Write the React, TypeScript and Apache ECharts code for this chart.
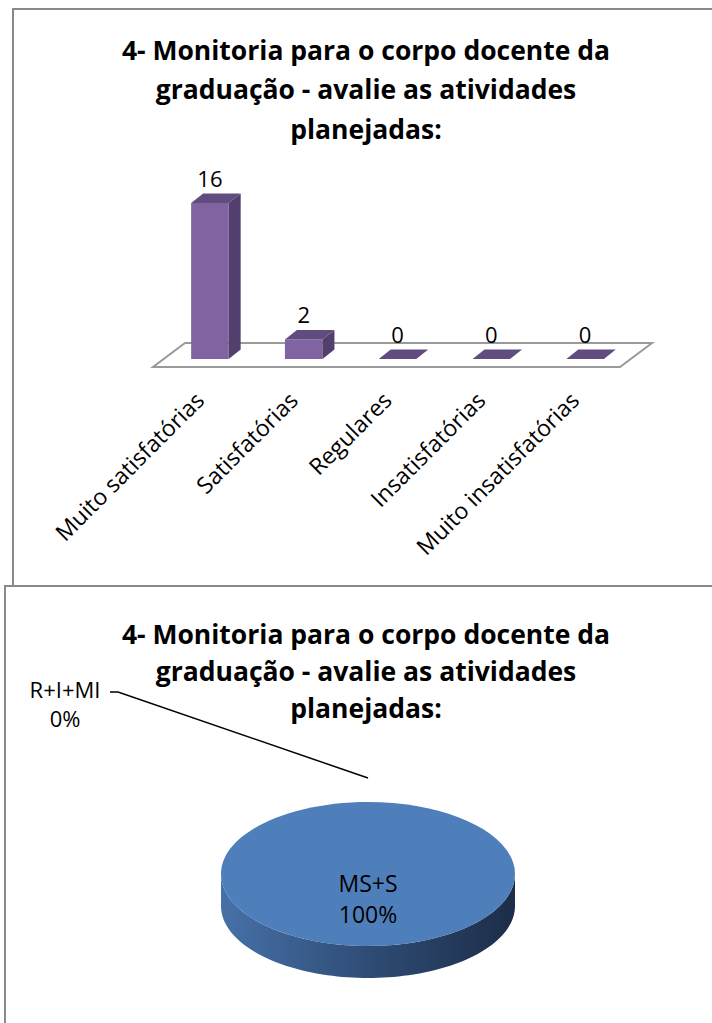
import React, { useEffect, useRef } from "react";
import * as echarts from "echarts";

const titleLines = ["4- Monitoria para o corpo docente da", "graduação - avalie as atividades", "planejadas:"];
const categories = ["Muito satisfatórias", "Satisfatórias", "Regulares", "Insatisfatórias", "Muito insatisfatórias"];
const counts = [16, 2, 0, 0, 0];
const pieNames = ["MS+S", "R+I+MI"];
const pieValues = [18, 0];

const FONT = "'Open Sans', sans-serif";
const DEPTH_X = 12;
const DEPTH_Y = -9.5;
const PIE = { cx: 368, cy: 874, rx: 147, ry: 72, depth: 32 };

function ellipsePt(deg: number, dy = 0): number[] {
  const r = (deg * Math.PI) / 180;
  return [PIE.cx + PIE.rx * Math.sin(r), PIE.cy - PIE.ry * Math.cos(r) + dy];
}
function arcPts(s: number, e: number, dy = 0): number[][] {
  const n = Math.max(2, Math.ceil((e - s) / 2));
  const pts: number[][] = [];
  for (let k = 0; k <= n; k++) pts.push(ellipsePt(s + ((e - s) * k) / n, dy));
  return pts;
}

export default function App() {
  const ref = useRef<HTMLDivElement>(null);
  useEffect(() => {
    if (!ref.current) return;
    const chart = echarts.init(ref.current, null, { renderer: "svg" });
    const pieTotal = pieValues.reduce((a, b) => a + b, 0);

    const option: any = {
      animation: false,
      backgroundColor: "#fff",
      graphic: [
        { type: "rect", shape: { x: 13, y: 9, width: 720, height: 577 }, style: { fill: "none", stroke: "#898989", lineWidth: 2 } },
        { type: "rect", shape: { x: 5, y: 586, width: 730, height: 460 }, style: { fill: "none", stroke: "#898989", lineWidth: 2 } },
        {
          type: "text", x: 366, y: 30,
          style: { text: titleLines.join("\n"), textAlign: "center", textVerticalAlign: "top", font: `bold 26.5px ${FONT}`, lineHeight: 39.5, fill: "#000" },
        },
        {
          type: "text", x: 366, y: 615,
          style: { text: titleLines.join("\n"), textAlign: "center", textVerticalAlign: "top", font: `bold 26.5px ${FONT}`, lineHeight: 37, fill: "#000" },
        },
      ],
      grid: [{ left: 163, width: 469, top: 203, height: 156 }],
      xAxis: [{
        type: "category", data: categories, gridIndex: 0,
        axisLine: { show: false }, axisTick: { show: false },
        axisLabel: { rotate: 45, margin: 26, padding: [0, 15, 0, 0], fontSize: 23, color: "#000", fontFamily: FONT, interval: 0 },
      }],
      yAxis: [{ type: "value", min: 0, max: 16, show: false, gridIndex: 0 }],
      series: [
        {
          type: "custom", xAxisIndex: 0, yAxisIndex: 0, silent: true, z: 1,
          data: [[0, 0]],
          renderItem: (params: any) => {
            const cs = params.coordSys;
            const gx = cs.x, gy = cs.y + cs.height, gw = cs.width;
            return {
              type: "polygon",
              shape: { points: [[gx - 10, gy + 8], [gx + gw - 12, gy + 8], [gx + gw + 20, gy - 16], [gx + 22, gy - 16]] },
              style: { fill: "#fff", stroke: "#9a9a9a", lineWidth: 2 },
            };
          },
        },
        {
          type: "custom", xAxisIndex: 0, yAxisIndex: 0, silent: true, z: 2,
          data: counts.map((v, i) => [i, v]),
          renderItem: (params: any, api: any) => {
            const idx = api.value(0);
            const val = api.value(1);
            const base = api.coord([idx, 0]);
            const top = api.coord([idx, val]);
            const bw = api.size([1, 0])[0] * 0.4;
            const l = base[0] - bw / 2, r = base[0] + bw / 2;
            const by = base[1], ty = top[1];
            const children: any[] = [];
            if (by - ty > 0.5) {
              children.push({ type: "rect", shape: { x: l, y: ty, width: bw, height: by - ty }, style: { fill: "#8064A2" } });
              children.push({ type: "polygon", shape: { points: [[r, ty], [r + DEPTH_X, ty + DEPTH_Y], [r + DEPTH_X, by + DEPTH_Y], [r, by]] }, style: { fill: "#523F6D" } });
            }
            children.push({ type: "polygon", shape: { points: [[l, ty], [l + DEPTH_X, ty + DEPTH_Y], [r + DEPTH_X, ty + DEPTH_Y], [r, ty]] }, style: { fill: "#614C7F" } });
            children.push({
              type: "text", x: base[0], y: ty + DEPTH_Y - 5,
              style: { text: String(val), textAlign: "center", textVerticalAlign: "bottom", font: `22px ${FONT}`, fill: "#000" },
            });
            return { type: "group", children };
          },
        },
        {
          type: "custom", coordinateSystem: "none", silent: true, z: 3,
          data: pieValues.map((v, i) => ({ name: pieNames[i], value: v })),
          renderItem: (params: any, api: any) => {
            const i = params.dataIndex;
            const v = api.value(0);
            const start = (pieValues.slice(0, i).reduce((a, b) => a + b, 0) / pieTotal) * 360;
            const sweep = (v / pieTotal) * 360;
            const end = start + sweep;
            const pct = Math.round((v / pieTotal) * 100) + "%";
            const children: any[] = [];
            if (sweep > 0) {
              const s = Math.max(start, 90), e = Math.min(end, 270);
              if (e > s) {
                const t = arcPts(s, e);
                const b = arcPts(s, e, PIE.depth).reverse();
                children.push({
                  type: "polygon", shape: { points: t.concat(b) },
                  style: {
                    fill: new echarts.graphic.LinearGradient(0, 0, 1, 0, [
                      { offset: 0, color: "#4671A8" },
                      { offset: 0.5, color: "#2F4C75" },
                      { offset: 1, color: "#1C2D48" },
                    ]),
                  },
                });
              }
              if (sweep >= 359.999) {
                children.push({ type: "ellipse", shape: { cx: PIE.cx, cy: PIE.cy, rx: PIE.rx, ry: PIE.ry }, style: { fill: "#4F7FBB" } });
              } else {
                children.push({ type: "polygon", shape: { points: [[PIE.cx, PIE.cy]].concat(arcPts(start, end)) }, style: { fill: "#4F7FBB" } });
              }
            }
            if (sweep >= 30) {
              const mid = (start + end) / 2;
              const p = sweep >= 359.999 ? [PIE.cx, PIE.cy + 24] : ellipsePt(mid);
              children.push({
                type: "text", x: p[0], y: p[1],
                style: { text: `${pieNames[i]}\n${pct}`, textAlign: "center", textVerticalAlign: "middle", font: `23px ${FONT}`, lineHeight: 31, fill: "#000" },
              });
            } else {
              const mid = start + sweep / 2;
              const anchor = ellipsePt(mid, -24);
              children.push({
                type: "polyline",
                shape: { points: [[110, 692], [118, 692], anchor] },
                style: { stroke: "#000", lineWidth: 1.5, fill: "none" },
              });
              children.push({
                type: "text", x: 65, y: 703,
                style: { text: `${pieNames[i]}\n${pct}`, textAlign: "center", textVerticalAlign: "middle", font: `22px ${FONT}`, lineHeight: 29, fill: "#000" },
              });
            }
            return { type: "group", children };
          },
        },
      ],
    };
    chart.setOption(option);
    return () => chart.dispose();
  }, []);
  return <div ref={ref} style={{ position: "fixed", left: 0, top: 0, width: 712, height: 1023 }} />;
}
